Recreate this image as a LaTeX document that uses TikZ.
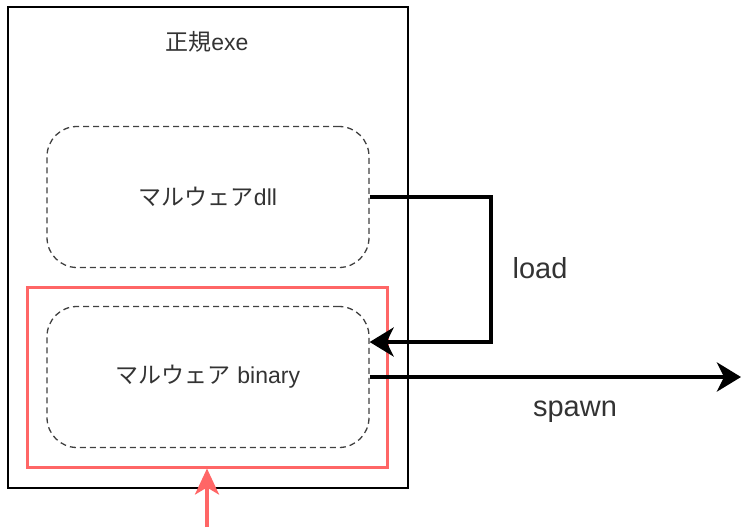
\documentclass[tikz,border=0pt]{standalone}
\usepackage{fontspec}
\setmainfont{Liberation Sans}
\newfontfamily\jpfont{Noto Sans CJK JP}
\usetikzlibrary{arrows.meta, positioning}
\definecolor{marker}{RGB}{255, 102, 102}
\definecolor{textgray}{RGB}{51, 51, 51}
\tikzset{
  hostbox/.style={draw=black, line width=1.5pt, minimum width=400pt, minimum height=481pt},
  modbox/.style={draw=black!75, dash pattern=on 6pt off 4pt, line width=1.3pt, rounded corners=30pt,
    minimum width=322pt, minimum height=141pt, text=textgray, font=\fontsize{23}{27}\selectfont},
  markbox/.style={draw=marker, line width=3pt, minimum width=360pt, minimum height=180pt},
  link/.style={line width=4pt, -{Stealth[length=24pt, width=29pt, inset=7pt]}},
  lbl/.style={text=textgray, font=\fontsize{29}{34}\selectfont}
}
\begin{document}
\begin{tikzpicture}[x=1pt, y=-1pt]
  \useasboundingbox (0,0) rectangle (741,527);
  \node[hostbox] (exe) at (208,247.5) {};
  \node[text=textgray, font=\fontsize{23}{27}\selectfont] (title) at (207,42) {{\jpfont 正規}exe};
  \node[modbox] (dll) at (208,197) {{\jpfont マルウェア}dll};
  \node[markbox] (mark) at (207,377) {};
  \node[modbox] (bin) at (208,377) {{\jpfont マルウェア} binary};
  % load / spawn
  \draw[link] (dll.east) -- ++(121,0) |- ([yshift=35pt]bin.east);
  \coordinate (out) at (741,377);
  \draw[link] (bin.east) -- (out);
  \node[lbl] (load) at (540,268) {load};
  \node[lbl] (spawn) at (575,412) {spawn};
  % marker arrow
  \coordinate (src) at (207,527);
  \draw[draw=marker, line width=3.5pt, -{Stealth[length=26pt, width=24pt, inset=7pt]}] (src) -- (mark.south);
\end{tikzpicture}
\end{document}
